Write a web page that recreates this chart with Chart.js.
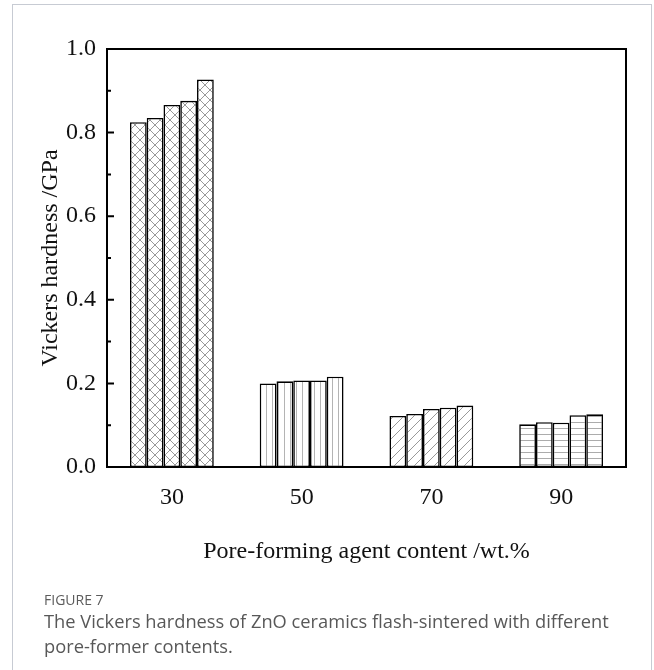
<!DOCTYPE html>
<html>
<head>
<meta charset="utf-8">
<script src="https://cdn.jsdelivr.net/npm/chart.js@4"></script>
<style>
  html, body { margin: 0; padding: 0; background: #fff; }
  #page { position: relative; width: 654px; height: 670px; overflow: hidden; }
  #frame { position: absolute; left: 12px; top: 4px; width: 640px; height: 700px; border: 1px solid #c7cbd3; box-sizing: border-box; }
  #chartBox { position: absolute; left: 0; top: 0; width: 654px; height: 670px; }
  .fig { position: absolute; left: 44px; font-family: "Open Sans", "Noto Sans", sans-serif; color: #5c5c5c; }
  #figNum { top: 590px; font-size: 14px; }
  #figText { top: 608px; font-size: 18.3px; line-height: 25px; color: #585858; }
</style>
</head>
<body>
<div id="page">
  <div id="frame"></div>
  <div id="chartBox"><canvas id="chart" width="654" height="670"></canvas></div>
  <div class="fig" id="figNum">FIGURE 7</div>
  <div class="fig" id="figText">The Vickers hardness of ZnO ceramics flash-sintered with different<br>pore-former contents.</div>
</div>
<script>
// pore-forming agent content (wt.%)
const categories = ['30', '50', '70', '90'];

// five samples per content level, Vickers hardness in GPa
const sample1 = [0.825, 0.200, 0.122, 0.102];
const sample2 = [0.835, 0.205, 0.127, 0.107];
const sample3 = [0.866, 0.207, 0.139, 0.106];
const sample4 = [0.876, 0.207, 0.142, 0.124];
const sample5 = [0.927, 0.216, 0.147, 0.126];

const yTicks = [0.0, 0.2, 0.4, 0.6, 0.8, 1.0];
const yMinorTicks = [0.1, 0.3, 0.5, 0.7, 0.9];

const serif = 'Liberation Serif';

// hatch fills, one kind per content level
function makePattern(kind) {
  const c = document.createElement('canvas');
  const size = kind === 'cross' || kind === 'diag' ? 10 : 6;
  c.width = size; c.height = size;
  const g = c.getContext('2d');
  g.fillStyle = '#fff';
  g.fillRect(0, 0, size, size);
  g.strokeStyle = '#999';
  g.lineWidth = 1;
  g.beginPath();
  if (kind === 'cross' || kind === 'diag') {
    g.moveTo(0, size); g.lineTo(size, 0);
    g.moveTo(-1, 1); g.lineTo(1, -1);
    g.moveTo(size - 1, size + 1); g.lineTo(size + 1, size - 1);
  }
  if (kind === 'cross') {
    g.moveTo(0, 0); g.lineTo(size, size);
    g.moveTo(-1, size - 1); g.lineTo(1, size + 1);
    g.moveTo(size - 1, -1); g.lineTo(size + 1, 1);
  }
  if (kind === 'vert') {
    g.strokeStyle = '#b4b4b4';
    g.moveTo(2.5, 0); g.lineTo(2.5, size);
  }
  if (kind === 'horiz') {
    g.strokeStyle = '#acacac';
    g.moveTo(0, 2.5); g.lineTo(size, 2.5);
  }
  g.stroke();
  return g.createPattern(c, 'repeat');
}

const fills = [makePattern('cross'), makePattern('vert'), makePattern('diag'), makePattern('horiz')];

const framePlugin = {
  id: 'framePlugin',
  afterDraw(chart) {
    const ctx = chart.ctx;
    const a = chart.chartArea;
    const y = chart.scales.y;
    ctx.save();
    ctx.strokeStyle = '#000';
    ctx.lineWidth = 2;
    ctx.strokeRect(a.left, a.top, a.right - a.left, a.bottom - a.top);
    ctx.beginPath();
    yTicks.forEach(v => {
      const py = y.getPixelForValue(v);
      ctx.moveTo(a.left, py); ctx.lineTo(a.left + 7, py);
    });
    yMinorTicks.forEach(v => {
      const py = y.getPixelForValue(v);
      ctx.moveTo(a.left, py); ctx.lineTo(a.left + 4, py);
    });
    ctx.stroke();
    ctx.restore();
  }
};

const ds = (data) => ({
  data: data,
  backgroundColor: fills,
  borderColor: '#000',
  borderWidth: 1.6,
  borderSkipped: false,
  categoryPercentage: 0.646,
  barPercentage: 1.0
});

new Chart(document.getElementById('chart'), {
  type: 'bar',
  data: {
    labels: categories,
    datasets: [ds(sample1), ds(sample2), ds(sample3), ds(sample4), ds(sample5)]
  },
  options: {
    responsive: false,
    animation: false,
    layout: { padding: { left: 36, right: 28, top: 49, bottom: 103 } },
    plugins: { legend: { display: false }, tooltip: { enabled: false } },
    scales: {
      x: {
        grid: { display: false },
        border: { display: false },
        ticks: { color: '#111', font: { family: serif, size: 24 }, padding: 8 },
        title: {
          display: true,
          text: 'Pore-forming agent content /wt.%',
          color: '#111',
          font: { family: serif, size: 24 },
          padding: { top: 0, bottom: 1 }
        },
        afterFit: s => { s.height = 100; }
      },
      y: {
        min: 0,
        max: 1,
        grid: { display: false, drawTicks: false },
        border: { display: false },
        afterBuildTicks: s => { s.ticks = yTicks.map(v => ({ value: v })); },
        ticks: {
          color: '#111',
          font: { family: serif, size: 24 },
          padding: 11,
          callback: v => v.toFixed(1)
        },
        title: {
          display: true,
          text: 'Vickers hardness /GPa',
          color: '#111',
          font: { family: serif, size: 24 },
          padding: { top: 0, bottom: 0 }
        },
        afterFit: s => { s.width = 71; }
      }
    }
  },
  plugins: [framePlugin]
});
</script>
</body>
</html>
